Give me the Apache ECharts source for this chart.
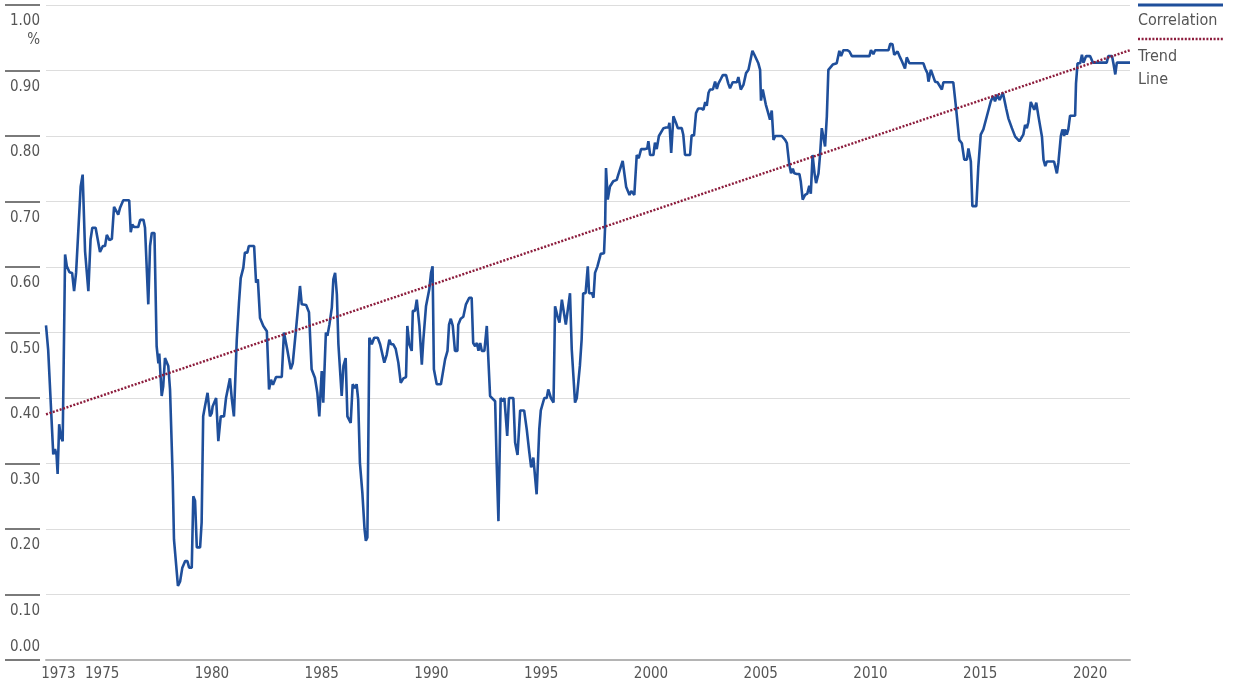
<!DOCTYPE html>
<html><head><meta charset="utf-8">
<script src="https://cdn.jsdelivr.net/npm/echarts@6/dist/echarts.min.js"></script>
<style>html,body{margin:0;padding:0;background:#fff}#c{width:1251px;height:682px}</style>
</head><body><div id="c"></div>
<script>
const years = [1972.44,1972.54,1972.62,1972.77,1972.85,1972.92,1972.97,1973.04,1973.12,1973.20,1973.31,1973.39,1973.51,1973.63,1973.72,1973.81,1973.89,1974.02,1974.11,1974.22,1974.37,1974.47,1974.55,1974.70,1974.90,1975.03,1975.13,1975.21,1975.33,1975.44,1975.54,1975.63,1975.73,1975.81,1975.96,1976.23,1976.30,1976.37,1976.45,1976.64,1976.73,1976.88,1976.95,1977.10,1977.18,1977.26,1977.38,1977.48,1977.56,1977.60,1977.71,1977.78,1977.86,1978.01,1978.09,1978.21,1978.27,1978.34,1978.45,1978.55,1978.65,1978.78,1978.88,1978.96,1979.08,1979.15,1979.23,1979.31,1979.46,1979.53,1979.60,1979.68,1979.80,1979.91,1979.99,1980.03,1980.19,1980.29,1980.40,1980.55,1980.64,1980.82,1980.90,1981.00,1981.13,1981.23,1981.31,1981.43,1981.50,1981.61,1981.68,1981.92,1982.01,1982.09,1982.19,1982.34,1982.50,1982.60,1982.69,1982.78,1982.92,1983.18,1983.28,1983.43,1983.59,1983.68,1983.83,1983.92,1984.01,1984.09,1984.29,1984.42,1984.54,1984.69,1984.80,1984.89,1985.00,1985.07,1985.19,1985.26,1985.35,1985.46,1985.53,1985.61,1985.69,1985.76,1985.84,1985.91,1985.99,1986.09,1986.17,1986.26,1986.32,1986.41,1986.52,1986.59,1986.66,1986.74,1986.85,1986.95,1987.01,1987.08,1987.17,1987.28,1987.39,1987.55,1987.66,1987.73,1987.85,1987.96,1988.08,1988.16,1988.26,1988.37,1988.49,1988.60,1988.72,1988.84,1988.90,1988.99,1989.10,1989.15,1989.25,1989.33,1989.45,1989.56,1989.63,1989.75,1989.90,1989.98,1990.05,1990.11,1990.24,1990.43,1990.62,1990.73,1990.80,1990.88,1990.97,1991.07,1991.18,1991.22,1991.33,1991.45,1991.57,1991.65,1991.72,1991.83,1991.90,1991.99,1992.07,1992.14,1992.22,1992.29,1992.41,1992.52,1992.67,1992.75,1992.90,1992.97,1993.05,1993.15,1993.24,1993.32,1993.39,1993.45,1993.53,1993.73,1993.81,1993.92,1994.04,1994.22,1994.34,1994.45,1994.54,1994.64,1994.79,1994.91,1994.98,1995.07,1995.14,1995.25,1995.32,1995.44,1995.56,1995.63,1995.74,1995.83,1995.94,1996.01,1996.12,1996.19,1996.31,1996.39,1996.46,1996.54,1996.62,1996.76,1996.84,1996.91,1997.02,1997.12,1997.18,1997.31,1997.38,1997.45,1997.56,1997.64,1997.71,1997.86,1997.91,1997.95,1998.03,1998.13,1998.28,1998.44,1998.51,1998.59,1998.71,1998.79,1998.87,1998.95,1999.02,1999.10,1999.24,1999.35,1999.44,1999.55,1999.73,1999.83,1999.88,1999.96,2000.11,2000.18,2000.26,2000.36,2000.44,2000.57,2000.69,2000.79,2000.84,2000.92,2001.02,2001.14,2001.22,2001.40,2001.47,2001.55,2001.78,2001.85,2001.96,2002.05,2002.15,2002.29,2002.39,2002.47,2002.54,2002.62,2002.69,2002.82,2002.92,2003.00,2003.07,2003.18,2003.27,2003.42,2003.52,2003.60,2003.72,2003.91,2003.98,2004.09,2004.21,2004.33,2004.44,2004.51,2004.62,2004.71,2004.79,2004.89,2004.97,2005.01,2005.09,2005.16,2005.23,2005.34,2005.42,2005.50,2005.58,2005.66,2005.96,2006.11,2006.19,2006.30,2006.38,2006.46,2006.53,2006.64,2006.76,2006.82,2006.91,2007.02,2007.12,2007.21,2007.28,2007.36,2007.45,2007.52,2007.63,2007.70,2007.78,2007.85,2007.93,2008.01,2008.08,2008.16,2008.28,2008.34,2008.46,2008.58,2008.66,2008.76,2008.94,2009.04,2009.15,2009.95,2010.02,2010.13,2010.21,2010.82,2010.90,2011.00,2011.08,2011.17,2011.23,2011.32,2011.43,2011.50,2011.57,2011.65,2011.77,2012.41,2012.49,2012.59,2012.64,2012.75,2012.84,2012.94,2013.05,2013.14,2013.25,2013.32,2013.77,2013.89,2014.04,2014.16,2014.27,2014.39,2014.46,2014.57,2014.64,2014.82,2014.91,2015.02,2015.14,2015.29,2015.37,2015.48,2015.53,2015.59,2015.67,2015.78,2015.88,2016.03,2016.18,2016.28,2016.44,2016.59,2016.78,2016.86,2016.96,2017.04,2017.12,2017.19,2017.30,2017.39,2017.46,2017.55,2017.65,2017.73,2017.81,2017.88,2017.96,2018.03,2018.36,2018.49,2018.56,2018.67,2018.74,2018.82,2018.86,2018.94,2019.01,2019.09,2019.32,2019.36,2019.43,2019.55,2019.63,2019.70,2019.82,2020.00,2020.13,2020.76,2020.83,2021.00,2021.07,2021.15,2021.22,2021.82];
const corr = [0.511,0.473,0.47,0.314,0.322,0.313,0.284,0.36,0.34,0.334,0.619,0.601,0.592,0.591,0.563,0.591,0.591,0.723,0.741,0.624,0.563,0.642,0.66,0.66,0.623,0.632,0.632,0.649,0.641,0.643,0.692,0.691,0.68,0.69,0.702,0.702,0.653,0.665,0.661,0.661,0.672,0.672,0.66,0.543,0.632,0.652,0.652,0.479,0.453,0.468,0.403,0.418,0.461,0.449,0.413,0.281,0.184,0.182,0.113,0.12,0.141,0.151,0.151,0.141,0.141,0.25,0.243,0.172,0.172,0.21,0.372,0.387,0.408,0.372,0.377,0.387,0.40,0.334,0.372,0.372,0.40,0.43,0.40,0.372,0.489,0.545,0.583,0.599,0.622,0.622,0.632,0.632,0.576,0.581,0.522,0.51,0.502,0.413,0.428,0.42,0.432,0.432,0.50,0.474,0.444,0.453,0.505,0.505,0.571,0.543,0.542,0.531,0.444,0.431,0.408,0.372,0.441,0.393,0.50,0.495,0.512,0.538,0.581,0.591,0.558,0.482,0.482,0.403,0.449,0.461,0.372,0.372,0.362,0.421,0.415,0.421,0.398,0.301,0.256,0.20,0.182,0.187,0.492,0.482,0.492,0.492,0.482,0.482,0.454,0.466,0.489,0.482,0.482,0.475,0.454,0.423,0.43,0.432,0.51,0.482,0.472,0.533,0.533,0.55,0.51,0.451,0.489,0.54,0.566,0.591,0.601,0.444,0.421,0.421,0.459,0.472,0.512,0.521,0.51,0.472,0.472,0.512,0.521,0.524,0.543,0.543,0.553,0.553,0.484,0.479,0.484,0.472,0.484,0.472,0.472,0.51,0.403,0.40,0.395,0.30,0.212,0.40,0.395,0.40,0.40,0.342,0.40,0.40,0.332,0.313,0.381,0.381,0.352,0.319,0.294,0.309,0.253,0.352,0.381,0.381,0.40,0.40,0.413,0.40,0.393,0.54,0.525,0.515,0.55,0.535,0.512,0.512,0.56,0.474,0.472,0.393,0.40,0.449,0.489,0.56,0.56,0.601,0.56,0.56,0.553,0.591,0.601,0.603,0.62,0.621,0.662,0.751,0.703,0.723,0.731,0.733,0.741,0.741,0.762,0.761,0.722,0.723,0.71,0.716,0.71,0.771,0.766,0.78,0.78,0.781,0.792,0.771,0.771,0.79,0.78,0.80,0.802,0.812,0.813,0.813,0.82,0.774,0.83,0.82,0.812,0.812,0.802,0.771,0.771,0.801,0.801,0.835,0.842,0.842,0.84,0.852,0.846,0.866,0.871,0.871,0.883,0.872,0.88,0.887,0.893,0.893,0.88,0.873,0.882,0.882,0.89,0.871,0.878,0.896,0.901,0.902,0.93,0.924,0.923,0.911,0.901,0.854,0.871,0.87,0.848,0.835,0.825,0.839,0.794,0.80,0.80,0.794,0.789,0.756,0.743,0.75,0.743,0.742,0.742,0.731,0.703,0.71,0.712,0.724,0.712,0.771,0.743,0.728,0.743,0.771,0.812,0.81,0.784,0.83,0.901,0.902,0.909,0.911,0.911,0.93,0.922,0.931,0.931,0.929,0.922,0.922,0.931,0.925,0.931,0.931,0.941,0.94,0.924,0.922,0.929,0.922,0.914,0.911,0.903,0.92,0.911,0.911,0.903,0.896,0.883,0.901,0.901,0.883,0.882,0.882,0.871,0.882,0.882,0.845,0.794,0.789,0.764,0.764,0.781,0.761,0.693,0.693,0.753,0.802,0.81,0.829,0.832,0.853,0.852,0.861,0.853,0.863,0.855,0.866,0.842,0.827,0.812,0.799,0.792,0.792,0.802,0.817,0.812,0.821,0.852,0.851,0.84,0.851,0.83,0.829,0.799,0.764,0.754,0.761,0.761,0.743,0.76,0.80,0.81,0.80,0.81,0.802,0.81,0.831,0.831,0.88,0.911,0.911,0.924,0.912,0.922,0.922,0.912,0.912,0.922,0.922,0.91,0.894,0.912,0.912];
const trendYears = [1972.44, 2021.82];
const trendValues = [0.375, 0.931];
const xTickYears = [1973, 1975, 1980, 1985, 1990, 1995, 2000, 2005, 2010, 2015, 2020];
const yMin = 0, yMax = 1, yStep = 0.1;
const seriesNames = ['Correlation', 'Trend Line'];
const yUnit = '%';

const FONT = "'Liberation Sans Narrow','DejaVu Sans Condensed','Roboto Condensed',Roboto,sans-serif";
const BLUE = '#1f4f9b', RED = '#8c1c3c', TXT = '#555555';

const chart = echarts.init(document.getElementById('c'), null, {renderer: 'canvas'});
const option = {
  animation: false,
  backgroundColor: '#ffffff',
  textStyle: {fontFamily: FONT},
  grid: {left: 46, right: 121, top: 5, bottom: 21, containLabel: false},
  xAxis: {
    type: 'value', min: trendYears[0], max: trendYears[1],
    axisLine: {show: true, lineStyle: {color: '#b4b4b4', width: 2}},
    axisTick: {show: false},
    splitLine: {show: false},
    axisLabel: {customValues: xTickYears, color: TXT, fontSize: 15, fontFamily: FONT, margin: 7,
      formatter: v => String(Math.round(v))}
  },
  yAxis: {
    type: 'value', min: yMin, max: yMax, interval: yStep, offset: 6,
    axisLine: {show: false},
    axisTick: {show: true, length: 35, lineStyle: {color: '#7a7a7a', width: 2}},
    splitLine: {show: true, lineStyle: {color: '#dddddd', width: 1}},
    axisLabel: {color: TXT, fontSize: 15, fontFamily: FONT, margin: 0, align: 'right', verticalAlign: 'top',
      lineHeight: 19, padding: [7, 0, 0, 0],
      formatter: v => v === yMax ? v.toFixed(2) + '\n' + yUnit : (v === yMin ? '' : v.toFixed(2))}
  },
  series: [
    {name: seriesNames[0], type: 'line', showSymbol: false, symbol: 'none', z: 3,
      lineStyle: {color: BLUE, width: 2.6}, data: years.map((y, i) => [y, corr[i]])},
    {name: seriesNames[1], type: 'line', showSymbol: false, symbol: 'none', z: 4,
      lineStyle: {color: RED, width: 2.4, type: [2, 1.6]}, data: trendYears.map((y, i) => [y, trendValues[i]])}
  ]
};
chart.setOption(option);
const y0 = chart.convertToPixel({yAxisIndex: 0}, yMin);
const yTop = chart.convertToPixel({yAxisIndex: 0}, yMax);
const xEnd = chart.convertToPixel({xAxisIndex: 0}, trendYears[1]);
const lx = xEnd + 8;
chart.setOption({graphic: [
  {type: 'text', x: 40, y: y0 - 5, style: {text: yMin.toFixed(2), align: 'right', verticalAlign: 'bottom', fill: TXT, font: '15px ' + FONT}},
  {type: 'line', shape: {x1: lx, y1: yTop, x2: lx + 85, y2: yTop}, style: {stroke: BLUE, lineWidth: 3}},
  {type: 'text', x: lx, y: yTop + 8, style: {text: seriesNames[0], fill: TXT, font: '16px ' + FONT, verticalAlign: 'top'}},
  {type: 'line', shape: {x1: lx, y1: yTop + 34, x2: lx + 85, y2: yTop + 34}, style: {stroke: RED, lineWidth: 2.4, lineDash: [2, 1.6]}},
  {type: 'text', x: lx, y: yTop + 40, style: {text: 'Trend\nLine', fill: TXT, font: '16px ' + FONT, verticalAlign: 'top', lineHeight: 23}}
]});
</script>
</body></html>
